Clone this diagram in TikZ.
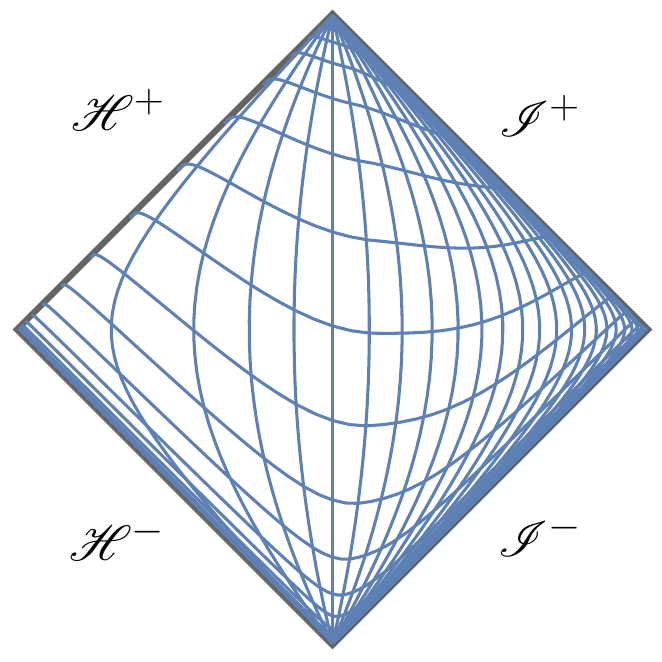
\documentclass[tikz,border=0pt]{standalone}
\usepackage{mathrsfs}
\definecolor{plotblue}{RGB}{94,129,181}
\definecolor{framegray}{RGB}{100,100,100}
\begin{document}
\begin{tikzpicture}[x=0.03cm,y=0.03cm,
  declare function={th(\z)=tanh(max(-4.5,min(4.5,\z)));},
  curveline/.style={draw=plotblue, line width=0.092cm, line join=round},
  diamondframe/.style={draw=framegray, line width=0.19cm, line join=miter},
  lab/.style={font=\Huge, scale=1.7, inner sep=0pt}]
\useasboundingbox (0,0) rectangle (662,661);
% frame
\coordinate (top) at (332.5,647);
\coordinate (right) at (648,331.5);
\coordinate (bottom) at (332.5,16);
\coordinate (left) at (17,331.5);
\draw[diamondframe] (top) -- (right) -- (bottom) -- (left) -- cycle;
% curves of constant radius
\foreach \s in {-0.877,-0.475,-0.272,-0.1235,0,0.118,0.226,0.329,0.424,0.518,0.608,0.703,0.793,0.896,1.0,1.108,1.222,1.35,1.49,1.66,1.87,2.12,2.45}{
  \draw[curveline] plot[variable=\t, domain=-5.5:5.5, samples=160]
    ({332.5+157*(th(\t+(\s))-th(\t-(\s)))},{331.5+157*(th(\t+(\s))+th(\t-(\s)))});
}
% height function of the slices, computed once
\gdef\hpairs{}
\foreach \i in {0,...,200}{
  \pgfmathsetmacro\q{-6+0.06*\i}
  \pgfmathsetmacro\dl{min(\q-0.15,0)}
  \pgfmathsetmacro\dr{max(\q-0.15,0)}
  \pgfmathsetmacro\h{-0.013+sqrt(\dl*\dl+0.2052)-0.453+pow(\dr*\dr*\dr+0.2237,0.333333)-0.607}
  \ifx\hpairs\empty
    \xdef\hpairs{\q/\h}
  \else
    \xdef\hpairs{\hpairs,\q/\h}
  \fi
}
% hyperboloidal slices
\foreach \k in {-9,...,9}{
  \gdef\pts{}
  \foreach \q/\h in \hpairs {
    \pgfmathsetmacro\tv{\k*0.31+\h}
    \pgfmathsetmacro\va{th(\tv+\q)}
    \pgfmathsetmacro\ub{th(\tv-\q)}
    \pgfmathsetmacro\xx{332.5+157*(\va-\ub)}
    \pgfmathsetmacro\yy{331.5+157*(\va+\ub)}
    \xdef\pts{\pts(\xx,\yy)}
  }
  \edef\tmp{\noexpand\draw[curveline] plot coordinates {\pts};}
  \tmp
}
% labels
\node[lab] (hplus) at (118,551) {$\mathscr{H}^{+}$};
\node[lab] (iplus) at (540,545) {$\mathscr{I}^{+}$};
\node[lab] (hminus) at (117,122) {$\mathscr{H}^{-}$};
\node[lab] (iminus) at (540,126) {$\mathscr{I}^{-}$};
\end{tikzpicture}
\end{document}
